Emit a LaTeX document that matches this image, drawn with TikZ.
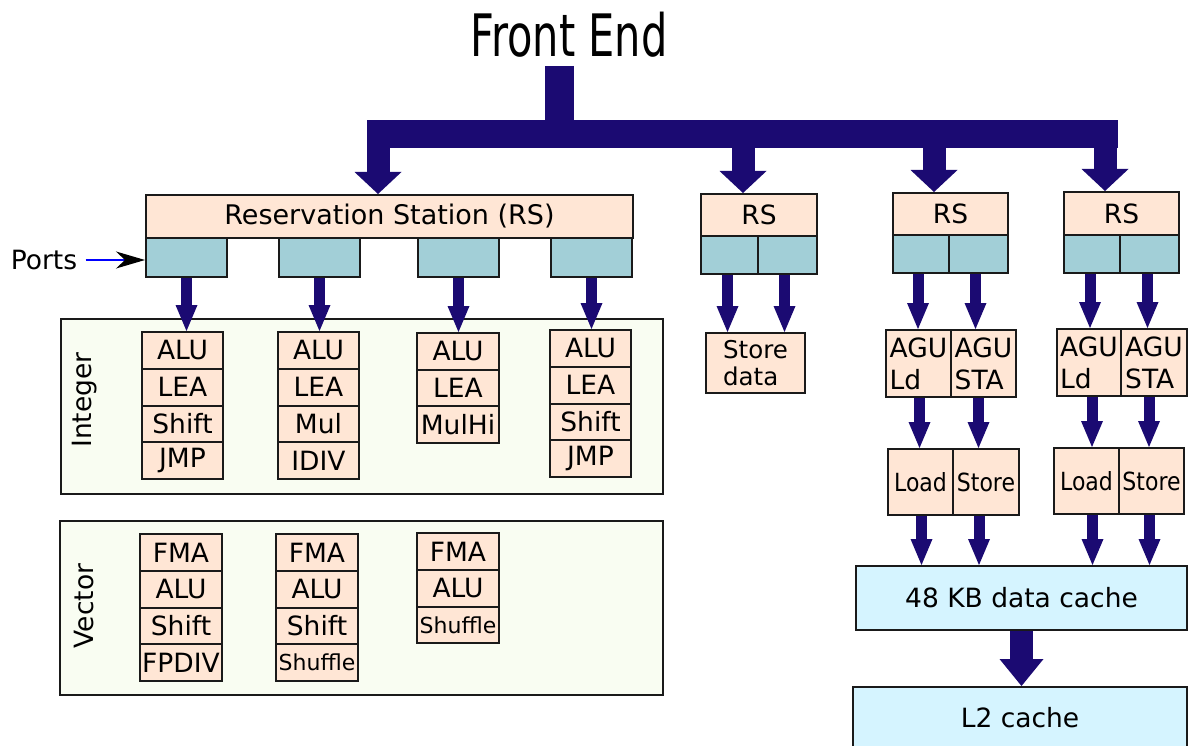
\documentclass[tikz,border=0pt]{standalone}
\usepackage{fontspec}
\setmainfont{DejaVu Sans}
\newfontfamily\headfont[FakeStretch=0.71]{DejaVu Sans}
\newfontfamily\condfont[FakeStretch=0.88]{DejaVu Sans}
\usetikzlibrary{arrows.meta}
\definecolor{peach}{HTML}{FFE6D5}
\definecolor{portc}{HTML}{A2CFD7}
\definecolor{cachec}{HTML}{D5F4FF}
\definecolor{bgc}{HTML}{F9FDF2}
\definecolor{edge}{HTML}{1A1A1A}
\definecolor{navy}{HTML}{1B0A72}
\newcommand\shuf{{\fontsize{22}{24}\selectfont Shuffle}}
\begin{document}
\begin{tikzpicture}[x=1pt,y=-1pt,
  font=\fontsize{26.5}{29}\selectfont,
  box/.style={draw=edge, line width=2pt, inner sep=0pt, anchor=north west, align=center},
  unit/.style={box, fill=peach},
  port/.style={box, fill=portc},
  cache/.style={box, fill=cachec},
  group/.style={box, fill=bgc},
  feed/.style={draw=navy, line width=23pt, -{Triangle[width=47pt,length=22pt,line width=0pt]}},
  flow/.style={draw=navy, line width=11pt, -{Triangle[width=22pt,length=26pt,line width=0pt]}},
  bigflow/.style={draw=navy, line width=23pt, -{Triangle[width=44pt,length=27pt,line width=0pt]}}]
\useasboundingbox (0,0) rectangle (1188,746);
\clip (0,0) rectangle (1188,746);

% ---- front end and distribution bus ----
\node[font=\headfont\fontsize{58.5}{62}\selectfont] (fe) at (569,35) {Front End};
\coordinate (stemtop) at (559.5,66);
\coordinate (busL) at (367,134);
\coordinate (busR) at (1118,134);
\draw[navy, line width=29pt] (stemtop) -- (stemtop |- busL);
\draw[navy, line width=28pt] (busL) -- (busR);
\coordinate (d1) at (378,147);
\coordinate (d2) at (743,147);
\coordinate (d3) at (934,147);
\coordinate (d4) at (1105,147);

% ---- main reservation station and its ports ----
\node[unit, minimum width=487pt, minimum height=43pt, font=\fontsize{27}{30}\selectfont] (rs) at (145,194) {Reservation Station (RS)};
\foreach \x/\n in {145/1, 278/2, 417/3, 550/4}
  \node[port, minimum width=81pt, minimum height=39pt] (p\n) at (\x,237) {};
\node (portlab) at (44,260) {Ports};
\draw[blue, line width=1.3pt, shorten <=5pt, -{Stealth[black,length=29pt,width=17pt,inset=9pt]}]
  (portlab.east) -- (p1.west |- portlab.east);

% ---- integer execution units ----
\node[group, minimum width=602pt, minimum height=175pt] (int) at (60,318) {};
\node[rotate=90] (intlab) at (85,400) {Integer};
\foreach \t [count=\i] in {ALU,LEA,Shift,JMP}
  \node[unit, minimum width=81pt, minimum height=36.75pt] (ia\i) at (141,{331+36.75*(\i-1)}) {\t};
\foreach \t [count=\i] in {ALU,LEA,Mul,IDIV}
  \node[unit, minimum width=81pt, minimum height=36.75pt] (ib\i) at (277,{331+36.75*(\i-1)}) {\t};
\foreach \t [count=\i] in {ALU,LEA,MulHi}
  \node[unit, minimum width=82pt, minimum height=36.5pt] (ic\i) at (416,{332+36.5*(\i-1)}) {\t};
\foreach \t [count=\i] in {ALU,LEA,Shift,JMP}
  \node[unit, minimum width=81pt, minimum height=36.75pt] (id\i) at (549,{329+36.75*(\i-1)}) {\t};

% ---- vector execution units ----
\node[group, minimum width=603pt, minimum height=174pt] (vec) at (59,520) {};
\node[rotate=90] (veclab) at (84,606) {Vector};
\foreach \t [count=\i] in {FMA,ALU,Shift,FPDIV}
  \node[unit, minimum width=82pt, minimum height=36.75pt] (va\i) at (139,{533+36.75*(\i-1)}) {\t};
\foreach \t [count=\i] in {FMA,ALU,Shift,\shuf}
  \node[unit, minimum width=82pt, minimum height=36.75pt] (vb\i) at (275,{533+36.75*(\i-1)}) {\t};
\foreach \t [count=\i] in {FMA,ALU,\shuf}
  \node[unit, minimum width=82pt, minimum height=36.75pt] (vc\i) at (416,{532+36.75*(\i-1)}) {\t};

% ---- store data station ----
\node[unit, minimum width=116pt, minimum height=42pt] (rs2) at (700,193) {RS};
\node[port, minimum width=57pt, minimum height=38pt] (q1) at (700,235) {};
\node[port, minimum width=59pt, minimum height=38pt] (q2) at (757,235) {};
\node[unit, minimum width=99pt, minimum height=60pt, align=left,
      font=\fontsize{24.5}{27}\selectfont] (sd) at (705,332) {Store\\data};

% ---- first load/store pair ----
\node[unit, minimum width=115pt, minimum height=42pt] (rs3) at (892,192) {RS};
\node[port, minimum width=56pt, minimum height=38pt] (r1) at (892,234) {};
\node[port, minimum width=59pt, minimum height=38pt] (r2) at (948,234) {};
\node[unit, minimum width=65pt, minimum height=67pt, align=left,
      font=\fontsize{26.5}{32}\selectfont] (g1) at (885,329) {AGU\\Ld};
\node[unit, minimum width=65pt, minimum height=67pt, align=left,
      font=\fontsize{26.5}{32}\selectfont] (g2) at (950,329) {AGU\\STA};
\node[unit, minimum width=65pt, minimum height=66pt, font=\condfont\fontsize{25}{28}\selectfont] (l1) at (887,448) {Load};
\node[unit, minimum width=66pt, minimum height=66pt, font=\condfont\fontsize{25}{28}\selectfont] (l2) at (952,448) {Store};

% ---- second load/store pair ----
\node[unit, minimum width=115pt, minimum height=43pt] (rs4) at (1063,191) {RS};
\node[port, minimum width=56pt, minimum height=38pt] (s1) at (1063,234) {};
\node[port, minimum width=59pt, minimum height=38pt] (s2) at (1119,234) {};
\node[unit, minimum width=64pt, minimum height=67pt, align=left,
      font=\fontsize{26.5}{32}\selectfont] (h1) at (1056,328) {AGU\\Ld};
\node[unit, minimum width=66pt, minimum height=67pt, align=left,
      font=\fontsize{26.5}{32}\selectfont] (h2) at (1120,328) {AGU\\STA};
\node[unit, minimum width=65pt, minimum height=66pt, font=\condfont\fontsize{25}{28}\selectfont] (m1) at (1053,447) {Load};
\node[unit, minimum width=65pt, minimum height=66pt, font=\condfont\fontsize{25}{28}\selectfont] (m2) at (1118,447) {Store};

% ---- caches ----
\node[cache, minimum width=331pt, minimum height=64pt] (dc) at (855,565) {48 KB data cache};
\node[cache, minimum width=334pt, minimum height=62pt] (l2c) at (852,686) {L2 cache};

% ---- connectors ----
\draw[feed] (d1) -- (d1 |- rs.north);
\draw[feed] (d2) -- (d2 |- rs2.north);
\draw[feed] (d3) -- (d3 |- rs3.north);
\draw[feed] (d4) -- (d4 |- rs4.north);

\draw[flow] (p1.south) -- (p1.south |- ia1.north);
\draw[flow] (p2.south) -- (p2.south |- ib1.north);
\draw[flow] (p3.south) -- (p3.south |- ic1.north);
\draw[flow] (p4.south) -- (p4.south |- id1.north);

\draw[flow] ([xshift=-2pt]q1.south) -- ([xshift=-2pt]q1.south |- sd.north);
\draw[flow] ([xshift=-3pt]q2.south) -- ([xshift=-3pt]q2.south |- sd.north);

\draw[flow] ([xshift=-3pt]r1.south) -- ([xshift=-3pt]r1.south |- g1.north);
\draw[flow] ([xshift=-3pt]r2.south) -- ([xshift=-3pt]r2.south |- g2.north);
\draw[flow] ([xshift=1pt]g1.south) -- ([xshift=1pt]g1.south |- l1.north);
\draw[flow] ([xshift=-5pt]g2.south) -- ([xshift=-5pt]g2.south |- l2.north);
\draw[flow] ([xshift=1pt]l1.south) -- ([xshift=1pt]l1.south |- dc.north);
\draw[flow] ([xshift=-7pt]l2.south) -- ([xshift=-7pt]l2.south |- dc.north);

\draw[flow] ([xshift=-2pt]s1.south) -- ([xshift=-2pt]s1.south |- h1.north);
\draw[flow] ([xshift=-2pt]s2.south) -- ([xshift=-2pt]s2.south |- h2.north);
\draw[flow] ([xshift=3pt]h1.south) -- ([xshift=3pt]h1.south |- m1.north);
\draw[flow] ([xshift=-5pt]h2.south) -- ([xshift=-5pt]h2.south |- m2.north);
\draw[flow] ([xshift=6pt]m1.south) -- ([xshift=6pt]m1.south |- dc.north);
\draw[flow] ([xshift=-2pt]m2.south) -- ([xshift=-2pt]m2.south |- dc.north);

\draw[bigflow] (dc.south) -- (dc.south |- l2c.north);
\end{tikzpicture}
\end{document}
